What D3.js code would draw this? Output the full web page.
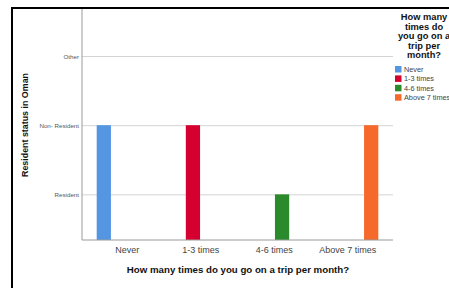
<!DOCTYPE html>
<html>
<head>
<meta charset="utf-8">
<script src="https://cdn.jsdelivr.net/npm/d3@7"></script>
<style>
  body { margin: 0; background: #fff; }
  svg { display: block; font-family: Arial, "Liberation Sans", sans-serif; }
</style>
</head>
<body>
<svg id="chart" width="449" height="288"></svg>
<script>
// chart data
const categories = ["Never", "1-3 times", "4-6 times", "Above 7 times"];
const seriesNames = ["Never", "1-3 times", "4-6 times", "Above 7 times"];
const residentLevels = ["Resident", "Non- Resident", "Other"];
// status each group reports (1 = Resident, 2 = Non- Resident, 3 = Other)
const statusValues = [2, 2, 1, 2];
const seriesColours = ["#5596e3", "#d5002f", "#2b8a2b", "#f5692b"];

const svg = d3.select("#chart");

// outer frame (only left and top edges are visible)
svg.append("path")
    .attr("d", "M12,290 L12,8 L452,8")
    .attr("fill", "none")
    .attr("stroke", "#000")
    .attr("stroke-width", 2);

const plot = {left: 82, right: 393, top: 9, bottom: 240};

const x = d3.scaleBand()
    .domain(categories)
    .range([plot.left, plot.right])
    .paddingInner(0.167)
    .paddingOuter(0.2);

const xInner = d3.scaleBand()
    .domain(seriesNames)
    .range([0, x.bandwidth()])
    .paddingInner(0.09);

const y = d3.scaleLinear()
    .domain([0.34, 3.68])
    .range([plot.bottom, plot.top]);

const colour = d3.scaleOrdinal().domain(seriesNames).range(seriesColours);

// gridlines + y labels
const yAxis = d3.axisLeft(y)
    .tickValues([1, 2, 3])
    .tickFormat(d => residentLevels[d - 1])
    .tickSize(-(plot.right - plot.left))
    .tickPadding(3);

svg.append("g")
    .attr("transform", `translate(${plot.left},0)`)
    .call(yAxis)
    .call(g => g.select(".domain").remove())
    .call(g => g.selectAll(".tick line").attr("stroke", "#d4d4d4"))
    .call(g => g.selectAll(".tick text")
        .attr("fill", "#555")
        .attr("font-size", "6.2px"));

// bars
const rows = categories.map((c, i) => ({cat: c, series: seriesNames[i], value: statusValues[i]}));
svg.selectAll("rect.bar").data(rows)
    .enter().append("rect")
    .attr("class", "bar")
    .attr("x", d => x(d.cat) + xInner(d.series))
    .attr("width", xInner.bandwidth())
    .attr("y", d => y(d.value))
    .attr("height", d => plot.bottom - y(d.value))
    .attr("fill", d => colour(d.series));

// axis lines
svg.append("line")
    .attr("x1", plot.left).attr("x2", plot.left)
    .attr("y1", plot.top).attr("y2", plot.bottom)
    .attr("stroke", "#9a9a9a");
svg.append("line")
    .attr("x1", plot.left).attr("x2", plot.right)
    .attr("y1", plot.bottom).attr("y2", plot.bottom)
    .attr("stroke", "#9a9a9a");

// x axis labels
const xAxis = d3.axisBottom(x).tickSize(0).tickPadding(7);
svg.append("g")
    .attr("transform", `translate(0,${plot.bottom})`)
    .call(xAxis)
    .call(g => g.select(".domain").remove())
    .call(g => g.selectAll(".tick text")
        .attr("fill", "#444")
        .attr("font-size", "9px"));

// axis titles
svg.append("text")
    .attr("x", 238).attr("y", 273)
    .attr("text-anchor", "middle")
    .attr("font-size", "9.7px")
    .attr("font-weight", "bold")
    .attr("fill", "#111")
    .text("How many times do you go on a trip per month?");

svg.append("text")
    .attr("transform", "translate(28,125) rotate(-90)")
    .attr("text-anchor", "middle")
    .attr("font-size", "8.9px")
    .attr("font-weight", "bold")
    .attr("fill", "#111")
    .text("Resident status in Oman");

// legend
const legendTitle = ["How many", "times do", "you go on a", "trip per", "month?"];
svg.append("text")
    .attr("text-anchor", "middle")
    .attr("font-size", "9.3px")
    .attr("font-weight", "bold")
    .attr("fill", "#111")
    .selectAll("tspan").data(legendTitle)
    .enter().append("tspan")
    .attr("x", 424)
    .attr("y", (d, i) => 20 + i * 9.5)
    .text(d => d);

const legend = svg.selectAll("g.legend").data(seriesNames)
    .enter().append("g")
    .attr("class", "legend")
    .attr("transform", (d, i) => `translate(395,${66 + i * 9.4})`);
legend.append("rect")
    .attr("width", 6.5).attr("height", 6.5)
    .attr("fill", d => colour(d));
legend.append("text")
    .attr("x", 9).attr("y", 5.8)
    .attr("font-size", "7.3px")
    .attr("fill", "#444")
    .text(d => d);
</script>
</body>
</html>
